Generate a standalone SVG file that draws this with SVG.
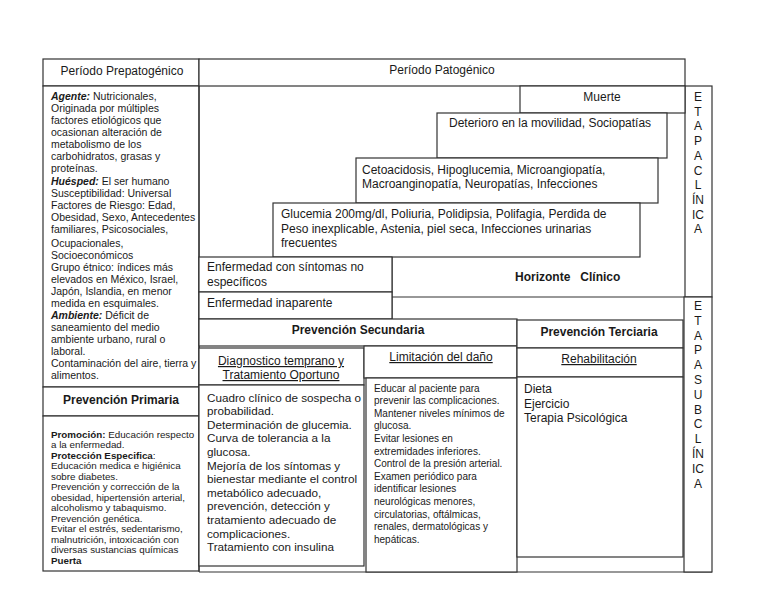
<svg xmlns="http://www.w3.org/2000/svg" width="768" height="594" viewBox="0 0 768 594">
<style>
text{font-family:"Liberation Sans",Arial,sans-serif;fill:#1a1a1a}
.box{fill:#fff;stroke:#333;stroke-width:1.2}
.ln{stroke:#333;stroke-width:1.2;fill:none}
.h{font-size:12px}
.c{text-anchor:middle}
.b{font-weight:bold}
.bi{font-weight:bold;font-style:italic}
.u{text-decoration:underline}
.s1{font-size:10.5px}
.s2{font-size:9.8px}
.s3{font-size:11.7px}
.s4{font-size:10px}
.v{font-size:12px;text-anchor:middle}
</style>
<rect x="0" y="0" width="768" height="594" fill="#fff"/>

<g id="prepatogenico">
<rect class="box" x="43" y="59" width="156" height="27"/>
<text class="h c" x="122" y="75">Período Prepatogénico</text>
</g>

<g id="agente">
<rect class="box" x="43" y="86" width="156" height="301"/>
<g class="s1">
<text x="51" y="100"><tspan class="bi">Agente:</tspan> Nutricionales,</text>
<text x="51" y="112">Originada por múltiples</text>
<text x="51" y="124">factores etiológicos que</text>
<text x="51" y="136">ocasionan alteración de</text>
<text x="51" y="148">metabolismo de los</text>
<text x="51" y="160">carbohidratos, grasas y</text>
<text x="51" y="172">proteínas.</text>
<text x="51" y="184.5"><tspan class="bi">Huésped:</tspan> El ser humano</text>
<text x="51" y="196.5">Susceptibilidad: Universal</text>
<text x="51" y="208.5">Factores de Riesgo: Edad,</text>
<text x="51" y="220.5">Obesidad, Sexo, Antecedentes</text>
<text x="51" y="232.5">familiares, Psicosociales,</text>
<text x="51" y="247">Ocupacionales,</text>
<text x="51" y="259">Socioeconómicos</text>
<text x="51" y="271">Grupo étnico: índices más</text>
<text x="51" y="283">elevados en México, Israel,</text>
<text x="51" y="295">Japón, Islandia, en menor</text>
<text x="51" y="307">medida en esquimales.</text>
<text x="51" y="319"><tspan class="bi">Ambiente:</tspan> Déficit de</text>
<text x="51" y="331">saneamiento del medio</text>
<text x="51" y="343">ambiente urbano, rural o</text>
<text x="51" y="355">laboral.</text>
<text x="51" y="367">Contaminación del aire, tierra y</text>
<text x="51" y="379">alimentos.</text>
</g>
</g>

<g id="prevencion-primaria">
<rect class="box" x="43" y="387" width="156" height="29"/>
<text class="b c" x="121" y="404" font-size="12">Prevención Primaria</text>
<rect class="box" x="43" y="416" width="156" height="155"/>
<g class="s2">
<text x="51" y="437.5"><tspan class="b">Promoción:</tspan> Educación respecto</text>
<text x="51" y="448">a la enfermedad.</text>
<text x="51" y="458.5"><tspan class="b">Protección Especifica</tspan>:</text>
<text x="51" y="469">Educación medica e higiénica</text>
<text x="51" y="479.5">sobre diabetes.</text>
<text x="51" y="490">Prevención y corrección de la</text>
<text x="51" y="500.5">obesidad, hipertensión arterial,</text>
<text x="51" y="511">alcoholismo y tabaquismo.</text>
<text x="51" y="521.5">Prevención genética.</text>
<text x="51" y="532">Evitar el estrés, sedentarismo,</text>
<text x="51" y="542.5">malnutrición, intoxicación con</text>
<text x="51" y="553">diversas sustancias químicas</text>
<text x="51" y="563.5" class="b">Puerta</text>
</g>
</g>

<g id="patogenico">
<rect class="box" x="199" y="59" width="486" height="27"/>
<text class="h c" x="442" y="74">Período Patogénico</text>
</g>

<g id="connectors">
<line class="ln" x1="199" y1="86" x2="199" y2="572"/>
<line class="ln" x1="392" y1="257" x2="392" y2="319"/>
<line class="ln" x1="392" y1="297" x2="712" y2="297"/>
<line class="ln" x1="199" y1="572" x2="712" y2="572"/>
</g>

<g id="etapa-clinica">
<rect class="box" x="685" y="86" width="27" height="211"/>
<text class="v" x="698" y="101">E</text>
<text class="v" x="698" y="115.7">T</text>
<text class="v" x="698" y="130.4">A</text>
<text class="v" x="698" y="145.1">P</text>
<text class="v" x="698" y="159.8">A</text>
<text class="v" x="698" y="174.5">C</text>
<text class="v" x="698" y="189.2">L</text>
<text class="v" x="698" y="203.9">ÍN</text>
<text class="v" x="698" y="218.6">IC</text>
<text class="v" x="698" y="233.3">A</text>
</g>

<g id="etapa-subclinica">
<rect class="box" x="684" y="297" width="28" height="275"/>
<text class="v" x="698" y="310">E</text>
<text class="v" x="698" y="324.8">T</text>
<text class="v" x="698" y="339.6">A</text>
<text class="v" x="698" y="354.4">P</text>
<text class="v" x="698" y="369.2">A</text>
<text class="v" x="698" y="384">S</text>
<text class="v" x="698" y="398.8">U</text>
<text class="v" x="698" y="413.6">B</text>
<text class="v" x="698" y="428.4">C</text>
<text class="v" x="698" y="443.2">L</text>
<text class="v" x="698" y="458">ÍN</text>
<text class="v" x="698" y="472.8">IC</text>
<text class="v" x="698" y="487.6">A</text>
</g>

<g id="muerte">
<rect class="box" x="520" y="86" width="165" height="27"/>
<text class="h c" x="602" y="101">Muerte</text>
</g>

<g id="deterioro">
<rect class="box" x="437" y="113" width="230" height="45"/>
<text class="h" x="449" y="127">Deterioro en la movilidad, Sociopatías</text>
</g>

<g id="complicaciones">
<rect class="box" x="356" y="158" width="302" height="45"/>
<text class="h" x="362" y="174">Cetoacidosis, Hipoglucemia, Microangiopatía,</text>
<text class="h" x="362" y="188">Macroanginopatía, Neuropatías, Infecciones</text>
</g>

<g id="glucemia">
<rect class="box" x="273" y="203" width="367" height="54"/>
<text class="h" x="281" y="218">Glucemia 200mg/dl, Poliuria, Polidipsia, Polifagia, Perdida de</text>
<text class="h" x="281" y="232.5">Peso inexplicable, Astenia, piel seca, Infecciones urinarias</text>
<text class="h" x="281" y="247">frecuentes</text>
</g>

<g id="sintomas-no-especificos">
<rect class="box" x="199" y="257" width="193" height="35"/>
<text class="h" x="207" y="271">Enfermedad con síntomas no</text>
<text class="h" x="207" y="286">específicos</text>
</g>

<g id="inaparente">
<rect class="box" x="199" y="292" width="193" height="27"/>
<text class="h" x="207" y="307">Enfermedad inaparente</text>
</g>

<g id="horizonte-clinico">
<text class="b" x="515" y="281" font-size="12" xml:space="preserve">Horizonte   Clínico</text>
</g>

<g id="prevencion-secundaria">
<rect class="box" x="199" y="319" width="318" height="27"/>
<text class="b c" x="358" y="334" font-size="12">Prevención Secundaria</text>
</g>

<g id="diagnostico">
<rect class="box" x="199" y="348" width="165" height="37"/>
<text class="h c u" x="281" y="365">Diagnostico temprano y</text>
<text class="h c u" x="281" y="379">Tratamiento Oportuno</text>
</g>

<g id="limitacion">
<rect class="box" x="364" y="346" width="153" height="32"/>
<text class="h c u" x="441" y="361">Limitación del daño</text>
</g>

<g id="cuadro-clinico">
<rect class="box" x="199" y="385" width="165" height="181"/>
<g class="s3">
<text x="207" y="401.5">Cuadro clínico de sospecha o</text>
<text x="207" y="415.1">probabilidad.</text>
<text x="207" y="428.7">Determinación de glucemia.</text>
<text x="207" y="442.3">Curva de tolerancia a la</text>
<text x="207" y="455.9">glucosa.</text>
<text x="207" y="469.5">Mejoría de los síntomas y</text>
<text x="207" y="483.1">bienestar mediante el control</text>
<text x="207" y="496.7">metabólico adecuado,</text>
<text x="207" y="510.3">prevención, detección y</text>
<text x="207" y="523.9">tratamiento adecuado de</text>
<text x="207" y="537.5">complicaciones.</text>
<text x="207" y="551.1">Tratamiento con insulina</text>
</g>
</g>

<g id="limitacion-texto">
<rect class="box" x="366" y="378" width="151" height="194"/>
<g class="s4">
<text x="374" y="391.5">Educar al paciente para</text>
<text x="374" y="404.1">prevenir las complicaciones.</text>
<text x="374" y="416.7">Mantener niveles mínimos de</text>
<text x="374" y="429.3">glucosa.</text>
<text x="374" y="441.9">Evitar lesiones en</text>
<text x="374" y="454.5">extremidades inferiores.</text>
<text x="374" y="467.1">Control de la presión arterial.</text>
<text x="374" y="479.7">Examen periódico para</text>
<text x="374" y="492.3">identificar lesiones</text>
<text x="374" y="504.9">neurológicas menores,</text>
<text x="374" y="517.5">circulatorias, oftálmicas,</text>
<text x="374" y="530.1">renales, dermatológicas y</text>
<text x="374" y="542.7">hepáticas.</text>
</g>
</g>

<g id="prevencion-terciaria">
<rect class="box" x="517" y="320" width="166" height="28"/>
<text class="b c" x="599" y="336" font-size="12">Prevención Terciaria</text>
</g>

<g id="rehabilitacion">
<rect class="box" x="517" y="348" width="166" height="29"/>
<text class="h c u" x="599" y="363">Rehabilitación</text>
</g>

<g id="dieta">
<rect class="box" x="517" y="377" width="166" height="180"/>
<text class="h" x="524" y="393">Dieta</text>
<text class="h" x="524" y="407.5">Ejercicio</text>
<text class="h" x="524" y="422">Terapia Psicológica</text>
</g>
</svg>
